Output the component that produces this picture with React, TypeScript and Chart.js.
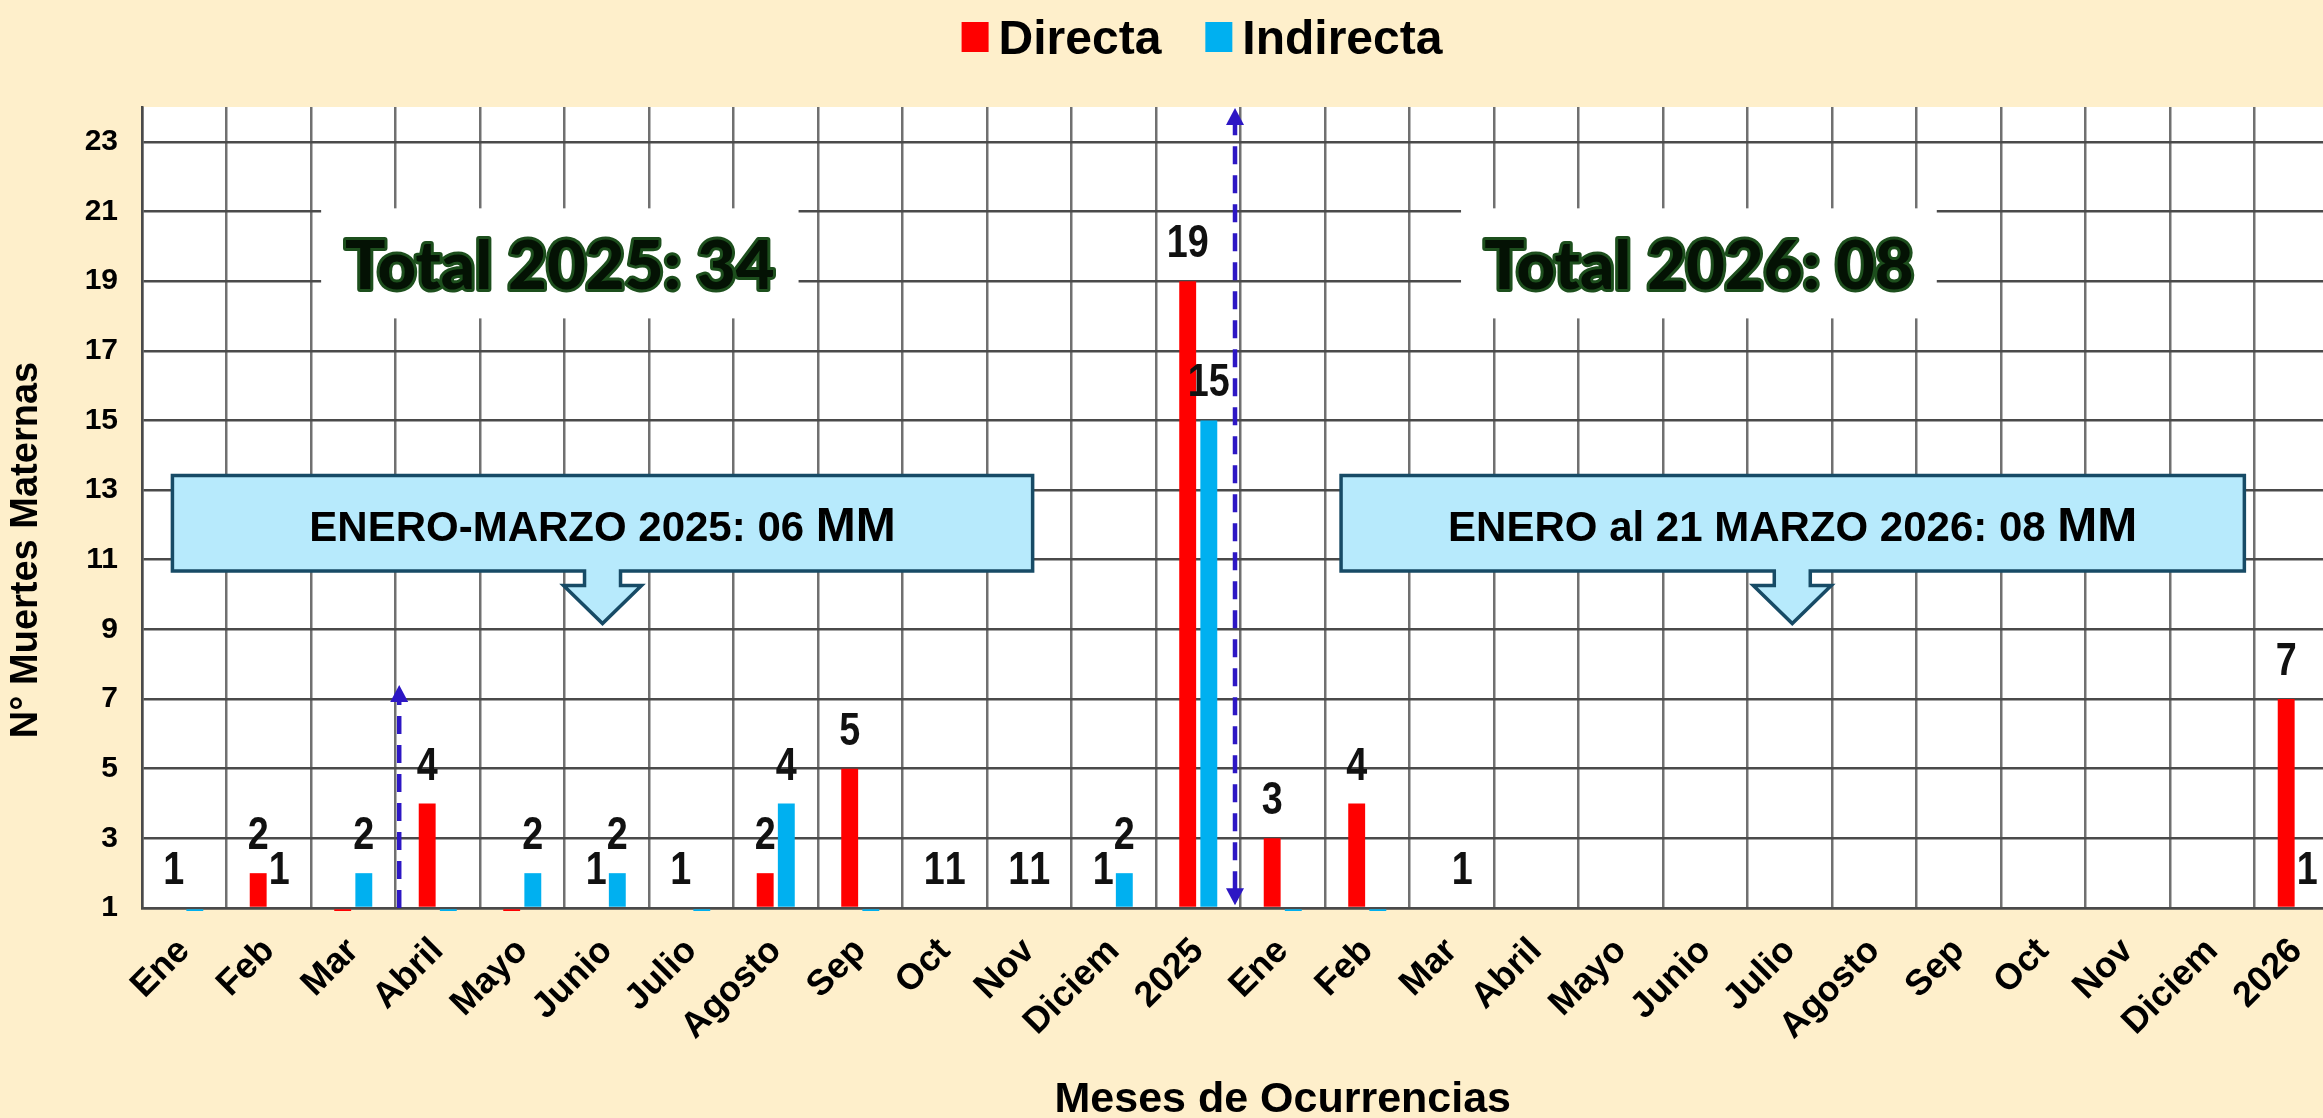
import React, { useEffect, useRef } from 'react';
import { Chart, registerables } from 'chart.js';

Chart.register(...registerables);

// ---------------- data ----------------
const categories = [
  'Ene', 'Feb', 'Mar', 'Abril', 'Mayo', 'Junio', 'Julio', 'Agosto', 'Sep', 'Oct', 'Nov', 'Diciem', '2025',
  'Ene', 'Feb', 'Mar', 'Abril', 'Mayo', 'Junio', 'Julio', 'Agosto', 'Sep', 'Oct', 'Nov', 'Diciem', '2026',
];
const directa = [1, 2, 0, 4, 0, 1, 1, 2, 5, 1, 1, 1, 19, 3, 4, null, null, null, null, null, null, null, null, null, null, 7];
const indirecta = [0, 1, 2, 0, 2, 2, 0, 4, 0, 1, 1, 2, 15, 0, 0, 1, null, null, null, null, null, null, null, null, null, 1];
const seriesNames = ['Directa', 'Indirecta'];
const seriesColors = ['#FF0000', '#00B0F0'];
const yTicks = [1, 3, 5, 7, 9, 11, 13, 15, 17, 19, 21, 23];
const yMin = 1;
const yMax = 24;

const xTitle = 'Meses de Ocurrencias';
const yTitle = 'N° Muertes Maternas';

// annotation boxes, positioned in data units (category index / value)
const totalBoxes = [
  { text: 'Total 2025: 34', x0: 1.62, x1: 7.27, y0: 17.93, y1: 21.09 },
  { text: 'Total 2026: 08', x0: 15.11, x1: 20.74, y0: 17.93, y1: 21.09 },
];
const callouts = [
  { text: 'ENERO-MARZO 2025: 06 ', unit: 'MM', x0: -0.14, x1: 10.04, yTop: 13.42, yBottom: 10.68, tipX: 4.95, tipY: 9.17 },
  { text: 'ENERO al 21 MARZO 2026: 08 ', unit: 'MM', x0: 13.69, x1: 24.38, yTop: 13.42, yBottom: 10.68, tipX: 19.03, tipY: 9.17 },
];
const dashedArrows = [
  { x: 2.544, from: 1.0, to: 7.4, startHead: false, endHead: true },
  { x: 12.435, from: 1.08, to: 23.97, startHead: true, endHead: true },
];

// ---------------- styles ----------------
const BG = '#FEEFCB';
const FONT = "'Liberation Sans', Arial, Helvetica, sans-serif";
const ARROW_COLOR = '#2D17C4';

const backgroundPlugin = {
  id: 'bgPlugin',
  beforeDraw(chart: any) {
    const { ctx, chartArea: a, width, height } = chart;
    ctx.save();
    ctx.fillStyle = BG;
    ctx.fillRect(0, 0, width, height);
    ctx.fillStyle = '#FFFFFF';
    ctx.fillRect(a.left, a.top, a.right - a.left, a.bottom - a.top);
    ctx.restore();
  },
};

function drawArrowHead(ctx: CanvasRenderingContext2D, x: number, tipY: number, dir: number) {
  // dir = -1 pointing up, +1 pointing down
  const hw = 9;
  const hh = 17;
  ctx.beginPath();
  ctx.moveTo(x, tipY);
  ctx.lineTo(x - hw, tipY - dir * hh);
  ctx.lineTo(x + hw, tipY - dir * hh);
  ctx.closePath();
  ctx.fill();
}

const overlayPlugin = {
  id: 'overlayPlugin',
  afterDatasetsDraw(chart: any) {
    const { ctx } = chart;
    // data labels
    chart.data.datasets.forEach((ds: any, di: number) => {
      const meta = chart.getDatasetMeta(di);
      meta.data.forEach((el: any, i: number) => {
        const v = ds.data[i];
        if (v === null || v === undefined || v === 0) return;
        ctx.save();
        ctx.translate(el.x, el.y - 24);
        ctx.scale(0.82, 1);
        ctx.font = `bold 46px ${FONT}`;
        ctx.textAlign = 'center';
        ctx.textBaseline = 'alphabetic';
        ctx.fillStyle = '#111111';
        ctx.fillText(String(v), 0, 0);
        ctx.restore();
      });
    });
  },
  afterDraw(chart: any) {
    const { ctx } = chart;
    const xs = chart.scales.x;
    const ys = chart.scales.y;

    // white total boxes
    totalBoxes.forEach((b) => {
      const L = xs.getPixelForValue(b.x0);
      const R = xs.getPixelForValue(b.x1);
      const T = ys.getPixelForValue(b.y1);
      const B = ys.getPixelForValue(b.y0);
      ctx.save();
      ctx.fillStyle = '#FFFFFF';
      ctx.fillRect(L, T, R - L, B - T);
      ctx.font = `900 67px Lato, 'Open Sans', sans-serif`;
      ctx.textAlign = 'center';
      ctx.textBaseline = 'alphabetic';
      const cx = (L + R) / 2;
      const by = (T + B) / 2 + 26;
      ctx.lineJoin = 'round';
      ctx.lineWidth = 6;
      ctx.strokeStyle = '#1D4F1D';
      ctx.strokeText(b.text, cx, by);
      ctx.fillStyle = '#041204';
      ctx.fillText(b.text, cx, by);
      ctx.restore();
    });

    // callouts
    callouts.forEach((c) => {
      const L = xs.getPixelForValue(c.x0);
      const R = xs.getPixelForValue(c.x1);
      const T = ys.getPixelForValue(c.yTop);
      const B = ys.getPixelForValue(c.yBottom);
      const tx = xs.getPixelForValue(c.tipX);
      const ty = ys.getPixelForValue(c.tipY);
      const sw = 18;
      const hw = 39;
      const hh = 38;
      ctx.save();
      ctx.beginPath();
      ctx.moveTo(L, T);
      ctx.lineTo(R, T);
      ctx.lineTo(R, B);
      ctx.lineTo(tx + sw, B);
      ctx.lineTo(tx + sw, ty - hh);
      ctx.lineTo(tx + hw, ty - hh);
      ctx.lineTo(tx, ty);
      ctx.lineTo(tx - hw, ty - hh);
      ctx.lineTo(tx - sw, ty - hh);
      ctx.lineTo(tx - sw, B);
      ctx.lineTo(L, B);
      ctx.closePath();
      ctx.fillStyle = '#B7EAFC';
      ctx.fill();
      ctx.lineWidth = 3.5;
      ctx.lineJoin = 'miter';
      ctx.strokeStyle = '#174B66';
      ctx.stroke();

      const f1 = `bold 42px ${FONT}`;
      const f2 = `bold 48px ${FONT}`;
      ctx.font = f1;
      const w1 = ctx.measureText(c.text).width;
      ctx.font = f2;
      const w2 = ctx.measureText(c.unit).width;
      const sx = (L + R) / 2 - (w1 + w2) / 2;
      const by = (T + B) / 2 + 18;
      ctx.fillStyle = '#000000';
      ctx.textAlign = 'left';
      ctx.textBaseline = 'alphabetic';
      ctx.font = f1;
      ctx.fillText(c.text, sx, by);
      ctx.font = f2;
      ctx.fillText(c.unit, sx + w1, by);
      ctx.restore();
    });

    // dashed arrows
    dashedArrows.forEach((a) => {
      const x = xs.getPixelForValue(a.x);
      const y0 = ys.getPixelForValue(a.from);
      const y1 = ys.getPixelForValue(a.to);
      ctx.save();
      ctx.strokeStyle = ARROW_COLOR;
      ctx.fillStyle = ARROW_COLOR;
      ctx.lineWidth = 4.5;
      ctx.setLineDash([18, 11]);
      ctx.beginPath();
      ctx.moveTo(x, a.startHead ? y0 - 16 : y0);
      ctx.lineTo(x, a.endHead ? y1 + 16 : y1);
      ctx.stroke();
      ctx.setLineDash([]);
      if (a.endHead) drawArrowHead(ctx, x, y1, -1);
      if (a.startHead) drawArrowHead(ctx, x, y0, 1);
      ctx.restore();
    });

    // legend
    ctx.save();
    ctx.font = `bold 48px ${FONT}`;
    const boxW = 27;
    const boxH = 30;
    const gapBoxText = 10;
    const gapItems = 44;
    const widths = seriesNames.map((n) => ctx.measureText(n).width);
    const total = widths.reduce((s, w) => s + boxW + gapBoxText + w, 0) + gapItems * (seriesNames.length - 1);
    let lx = 1202 - total / 2;
    seriesNames.forEach((n, i) => {
      ctx.fillStyle = seriesColors[i];
      ctx.fillRect(lx, 22, boxW, boxH);
      lx += boxW + gapBoxText;
      ctx.fillStyle = '#000000';
      ctx.textAlign = 'left';
      ctx.textBaseline = 'alphabetic';
      ctx.fillText(n, lx, 54);
      lx += widths[i] + gapItems;
    });
    ctx.restore();

    // axis titles
    ctx.save();
    ctx.fillStyle = '#000000';
    ctx.font = `bold 43px ${FONT}`;
    ctx.textAlign = 'center';
    ctx.textBaseline = 'alphabetic';
    ctx.fillText(xTitle, xs.getPixelForValue(13), 1112);
    ctx.translate(27, 550);
    ctx.rotate(-Math.PI / 2);
    ctx.font = `bold 38px ${FONT}`;
    ctx.textBaseline = 'middle';
    ctx.fillText(yTitle, 0, 0);
    ctx.restore();
  },
};

export default function App() {
  const ref = useRef<HTMLCanvasElement>(null);

  useEffect(() => {
    if (!ref.current) return;
    const clip = { left: 0, top: 0, right: 0, bottom: 3 };
    const chart = new Chart(ref.current, {
      type: 'bar',
      data: {
        labels: categories,
        datasets: [
          {
            label: seriesNames[0],
            data: directa,
            backgroundColor: seriesColors[0],
            categoryPercentage: 0.5,
            barPercentage: 0.8,
            base: 1,
            clip,
          } as any,
          {
            label: seriesNames[1],
            data: indirecta,
            backgroundColor: seriesColors[1],
            categoryPercentage: 0.5,
            barPercentage: 0.8,
            base: 1,
            clip,
          } as any,
        ],
      },
      options: {
        responsive: false,
        animation: false,
        devicePixelRatio: 1,
        layout: { padding: { left: 0, top: 107, right: 21, bottom: 0 } },
        plugins: {
          legend: { display: false },
          tooltip: { enabled: false },
          title: { display: false },
        },
        scales: {
          x: {
            offset: true,
            grid: { color: '#707070', lineWidth: 2.5, drawTicks: false, offset: true },
            border: { color: '#4A4A4A', width: 2.5 },
            ticks: {
              autoSkip: false,
              maxRotation: 45,
              minRotation: 45,
              padding: 22,
              color: '#000000',
              font: { family: FONT, weight: 'bold', size: 36 },
            },
            afterFit: (s: any) => {
              s.height = 210;
            },
          },
          y: {
            min: yMin,
            max: yMax,
            afterBuildTicks: (s: any) => {
              s.ticks = yTicks.map((v) => ({ value: v }));
            },
            grid: { color: '#4A4A4A', lineWidth: 2.5, drawTicks: false },
            border: { color: '#4A4A4A', width: 2.5 },
            ticks: {
              padding: 24,
              color: '#000000',
              font: { family: FONT, weight: 'bold', size: 30 },
            },
            afterFit: (s: any) => {
              s.width = 142;
            },
          },
        },
      } as any,
      plugins: [backgroundPlugin, overlayPlugin],
    });
    return () => chart.destroy();
  }, []);

  return (
    <div
      style={{
        position: 'fixed',
        left: 0,
        top: 0,
        width: '100vw',
        height: '100vh',
        overflow: 'hidden',
        background: BG,
      }}
    >
      <canvas ref={ref} width={2360} height={1118} style={{ display: 'block', width: 2360, height: 1118 }} />
    </div>
  );
}
